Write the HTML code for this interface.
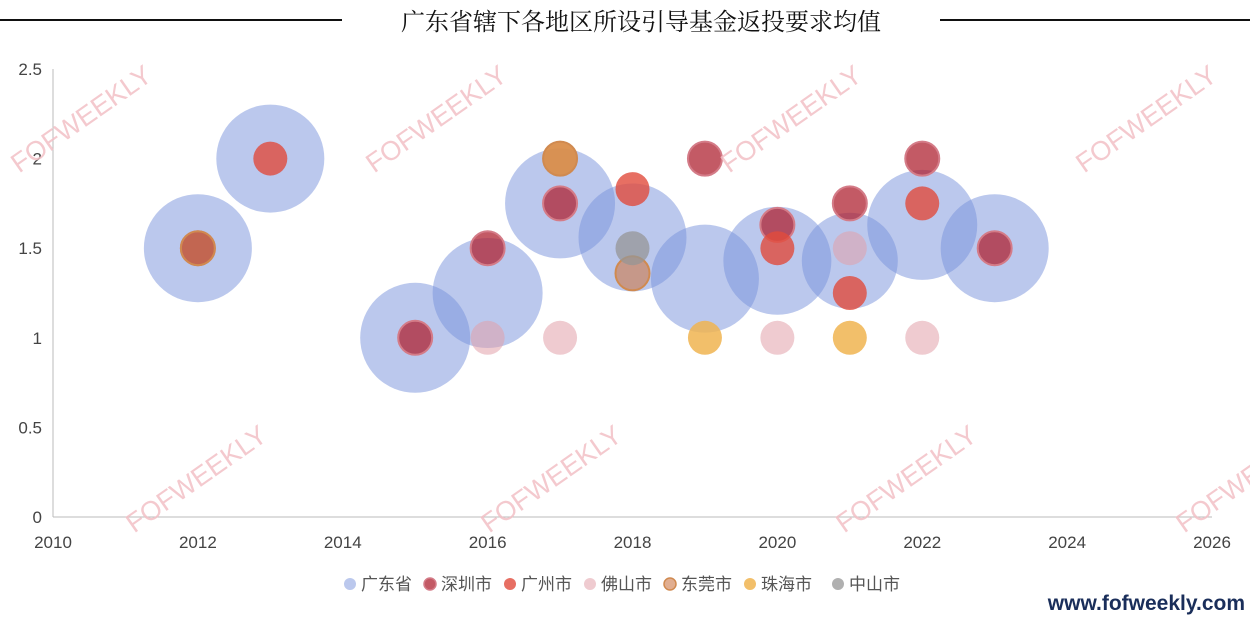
<!DOCTYPE html>
<html><head><meta charset="utf-8">
<style>
body{margin:0;background:#fff;font-family:"Liberation Sans","Noto Sans CJK SC",sans-serif;}
svg text{font-family:"Liberation Sans","Noto Sans CJK SC",sans-serif;}
</style></head>
<body>
<svg id="chart" width="1250" height="615" xmlns="http://www.w3.org/2000/svg">
<line x1="0" y1="20" x2="342" y2="20" stroke="#111" stroke-width="2"/>
<line x1="940" y1="20" x2="1250" y2="20" stroke="#111" stroke-width="2"/>
<text x="641" y="30" text-anchor="middle" font-size="24" fill="#111" style="font-family:'Noto Serif CJK SC',serif">广东省辖下各地区所设引导基金返投要求均值</text>
<g id="axes"></g>
<g id="marks"></g>
<g id="wm" fill="#f2c0c6" font-size="27" opacity="0.85"></g>
<g id="legend"></g>
<text x="1245" y="610" text-anchor="end" font-size="21" font-weight="bold" fill="#1a2e5a">www.fofweekly.com</text>
</svg>
<script>
const xTicks=[2010,2012,2014,2016,2018,2020,2022,2024,2026];
const yTicks=[0,0.5,1,1.5,2,2.5];
const seriesNames=['广东省','深圳市','广州市','佛山市','东莞市','珠海市','中山市'];
const gdYears=[2012,2013,2015,2016,2017,2018,2019,2020,2021,2022,2023];
const gdValues=[1.5,2,1,1.25,1.75,1.56,1.33,1.43,1.43,1.63,1.5];
const gdSizes=[54,54,55,55,55,54,54,54,48,55,54];
const szYears=[2012,2015,2016,2017,2019,2020,2021,2022,2023];
const szValues=[1.5,1,1.5,1.75,2,1.63,1.75,2,1.5];
const gzYears=[2013,2018,2020,2021,2022];
const gzValues=[2,1.83,1.5,1.25,1.75];
const fsYears=[2016,2017,2020,2021,2022];
const fsValues=[1,1,1,1.5,1];
const zhYears=[2017,2019,2021];
const zhValues=[2,1,1];
const dgYears=[2012,2017,2018];
const dgValues=[1.5,2,1.36];
const zsYears=[2018];
const zsValues=[1.5];
const NS='http://www.w3.org/2000/svg';
const X=v=>53+(v-2010)*(1212-53)/16;
const Y=v=>517-v*(517-69)/2.5;
function mk(t,a,p){const e=document.createElementNS(NS,t);for(const k in a)e.setAttribute(k,a[k]);p.appendChild(e);return e;}
const axes=document.getElementById('axes');
const ya=mk('line',{x1:53,y1:69,x2:53,y2:517,stroke:'#bbb'},axes);


const xa=mk('line',{x1:53,y1:517,x2:1212,y2:517,stroke:'#bbb'},axes);


yTicks.forEach(v=>{const t=mk('text',{x:42,y:Y(v)+6,'text-anchor':'end','font-size':17,fill:'#444'},axes);t.textContent=String(v);

});
xTicks.forEach(v=>{const t=mk('text',{x:X(v),y:548,'text-anchor':'middle','font-size':17,fill:'#444'},axes);t.textContent=String(v);

});
const marks=document.getElementById('marks');
const colors=['rgba(120,145,220,0.5)','rgba(175,35,50,0.75)','rgba(225,75,60,0.8)','rgba(225,160,170,0.55)','rgba(205,120,70,0.6)','rgba(240,180,80,0.85)','rgba(150,150,150,0.75)'];
const strokes=['none','#d47c88','none','none','#d08a50','none','none'];
gdYears.forEach((yr,i)=>{const c=mk('circle',{cx:X(yr),cy:Y(gdValues[i]),r:gdSizes[i],fill:colors[0]},marks);

});
const small=[[szYears,szValues,1,'bubble-shenzhen'],[gzYears,gzValues,2,'bubble-guangzhou'],[fsYears,fsValues,3,'bubble-foshan'],[zhYears,zhValues,5,'bubble-zhuhai'],[dgYears,dgValues,4,'bubble-dongguan'],[zsYears,zsValues,6,'bubble-zhongshan']];
small.forEach(([ys,vs,ci,nm])=>ys.forEach((yr,i)=>{const c=mk('circle',{cx:X(yr),cy:Y(vs[i]),r:17,fill:colors[ci],stroke:strokes[ci],'stroke-width':2},marks);

}));
const wm=document.getElementById('wm');
[[75,130],[430,130],[785,130],[1140,130],[190,490],[545,490],[900,490],[1240,490]].forEach(([x,y])=>{const t=mk('text',{x:x,y:y,'text-anchor':'middle',transform:`rotate(-35 ${x} ${y-20})`},wm);t.textContent='FOFWEEKLY';

});
const lg=document.getElementById('legend');
const lgx=[350,430,510,590,670,750,838];
seriesNames.forEach((n,i)=>{const g=mk('g',{},lg);


mk('circle',{cx:lgx[i],cy:584,r:6,fill:colors[i],stroke:strokes[i],'stroke-width':1.5},g);
const t=mk('text',{x:lgx[i]+11,y:590,'font-size':17,fill:'#555'},g);t.textContent=n;});
</script>
</body></html>
